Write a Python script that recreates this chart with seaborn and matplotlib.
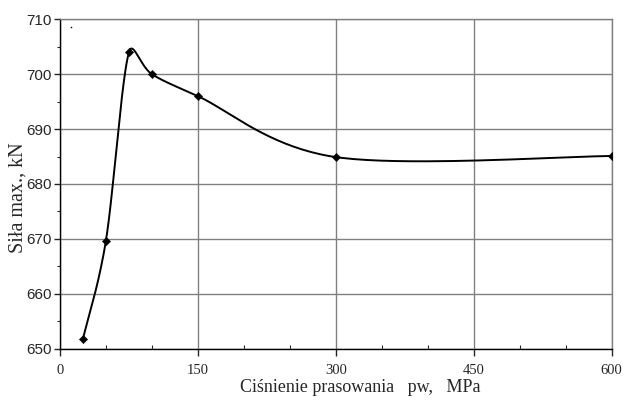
import numpy as np
import pandas as pd
import seaborn as sns
import matplotlib.pyplot as plt
from matplotlib.ticker import MultipleLocator

# data
pressure = [25, 50, 75, 100, 150, 300, 600]          # MPa
force = [651.8, 669.7, 704.0, 700.0, 696.0, 684.9, 685.1]  # kN

x_ticks = [0, 150, 300, 450, 600]
y_ticks = [650, 660, 670, 680, 690, 700, 710]


def smooth_line(xs, ys, sx, sy, n=40, k=0.45):
    # Excel-like smoothed line: cubic bezier, catmull-rom tangents (1/6),
    # control arm limited to k * segment length on screen (sx, sy = px per unit)
    px = np.array(xs, dtype=float)
    py = np.array(ys, dtype=float)
    m = len(px)
    seg = np.hypot(np.diff(px) * sx, np.diff(py) * sy)
    cin, cout = [], []
    for i in range(m):
        a = max(i - 1, 0)
        b = min(i + 1, m - 1)
        tx, ty = (px[b] - px[a]) / 6, (py[b] - py[a]) / 6
        arm = np.hypot(tx * sx, ty * sy)
        f_in = min(1.0, k * seg[i - 1] / arm) if i > 0 else 1.0
        f_out = min(1.0, k * seg[i] / arm) if i < m - 1 else 1.0
        cin.append((px[i] - tx * f_in, py[i] - ty * f_in))
        cout.append((px[i] + tx * f_out, py[i] + ty * f_out))
    ox, oy = [], []
    t = np.linspace(0, 1, n)
    b0, b1, b2, b3 = (1 - t) ** 3, 3 * (1 - t) ** 2 * t, 3 * (1 - t) * t ** 2, t ** 3
    for i in range(m - 1):
        ox.extend(b0 * px[i] + b1 * cout[i][0] + b2 * cin[i + 1][0] + b3 * px[i + 1])
        oy.extend(b0 * py[i] + b1 * cout[i][1] + b2 * cin[i + 1][1] + b3 * py[i + 1])
    return pd.DataFrame({'x': ox, 'y': oy})


sns.set_style('white')
plt.rcParams['font.family'] = ['Liberation Serif', 'DejaVu Serif']

df = pd.DataFrame({'pw': pressure, 'F': force})
curve = smooth_line(pressure, force, 0.92, 5.49)

fig = plt.figure(figsize=(6.26, 4.01), dpi=100)
ax = fig.add_axes([0.0958, 0.1304, 0.8813, 0.8215])

ax.grid(True, color='#808080', linewidth=1.0)
ax.set_axisbelow(True)

sns.lineplot(data=curve, x='x', y='y', sort=False, estimator=None,
             color='black', linewidth=1.4, ax=ax)
sns.scatterplot(data=df, x='pw', y='F', marker='D', s=18, color='black',
                edgecolor='black', zorder=5, ax=ax)
# small stray dot in the corner of the original
ax.plot([11.5], [708.6], marker='s', ms=1.0, mew=0, color='black', ls='none')

ax.set_xlim(0, 600)
ax.set_ylim(650, 710)
ax.set_xticks(x_ticks)
ax.set_yticks(y_ticks)
ax.xaxis.set_minor_locator(MultipleLocator(50))
ax.yaxis.set_minor_locator(MultipleLocator(5))
ax.tick_params(which='both', bottom=True, left=True, top=False, right=False)
ax.tick_params(axis='x', which='major', direction='out', length=5, width=1,
               labelsize=10.5, pad=6)
ax.tick_params(axis='x', which='minor', direction='in', length=3, width=0.8)
ax.tick_params(axis='y', which='major', direction='out', length=4, width=1,
               labelsize=11, pad=2)
ax.tick_params(axis='y', which='minor', direction='out', length=2, width=0.8)
for lab in ax.get_yticklabels():
    lab.set_family(['Liberation Sans', 'DejaVu Sans'])

for side in ['top', 'right']:
    ax.spines[side].set_color('#808080')
    ax.spines[side].set_linewidth(1.0)
for side in ['left', 'bottom']:
    ax.spines[side].set_color('black')
    ax.spines[side].set_linewidth(1.0)

ax.set_xlabel('Ciśnienie prasowania   pw,   MPa', fontsize=13)
ax.set_ylabel('Siła max., kN', fontsize=14.5)
ax.xaxis.set_label_coords(0.544, -0.092)
ax.yaxis.set_label_coords(-0.058, 0.457)

fig.savefig('out.png', dpi=100)
